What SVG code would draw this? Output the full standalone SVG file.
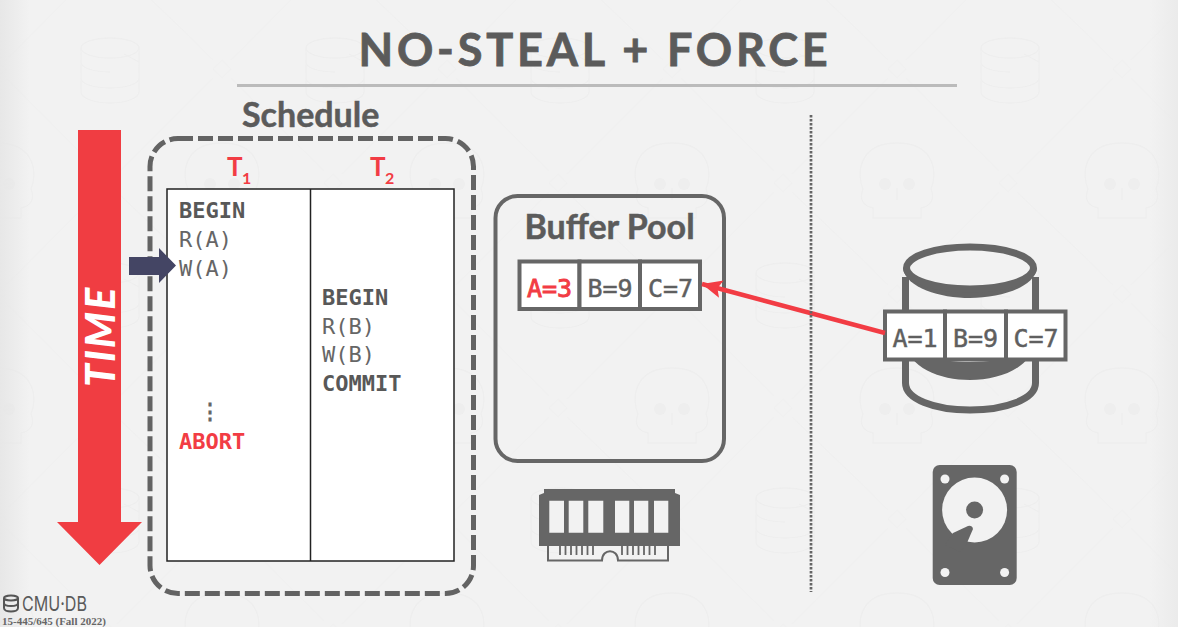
<svg xmlns="http://www.w3.org/2000/svg" width="1178" height="627" viewBox="0 0 1178 627">
<style>
.lato{font-family:Lato,"Open Sans",sans-serif;font-weight:700;fill:#5b5b5b;stroke:#5b5b5b;stroke-width:.5}
.mono{font-family:"DejaVu Sans Mono",monospace;font-size:22px;fill:#666}
.b{font-weight:700;fill:#585858}
.cell{fill:#fff;stroke:#666;stroke-width:4}
.val{font-family:"DejaVu Sans Mono",monospace;font-size:25px;fill:#5f5f5f;stroke:#5f5f5f;stroke-width:.5;text-anchor:middle}
.mono.red,.val.red{fill:#f23c44;stroke-color:#f23c44}
.val.red{stroke:#f23c44;stroke-width:.9}
.tx{font-family:Lato,sans-serif;font-weight:700;fill:#f23c44}
.wm{fill:none;stroke:#eeeeee;stroke-width:1.300}
.hole{fill:#f2f2f2}
.dk{fill:#666}
</style>
<defs>
<pattern id="tile" patternUnits="userSpaceOnUse" x="78" y="36" width="225" height="225">
<path d="M111 0L135 24M153 42L225 114M0 114L21 135M39 156L111 225M177 0L153 24M135 42L39 138M21 156L0 177M225 177L177 225M144 24L153 33L144 42L135 33ZM30 138L39 147L30 156L21 147Z" fill="none" stroke="#f0f0f0" stroke-width="1.200"/>
<ellipse class="wm" cx="32" cy="12" rx="29" ry="10"/>
<path class="wm" d="M3 12V56C3 62 16 67 32 67S61 62 61 56V12M3 26C3 32 16 36 32 36M3 42C3 48 16 52 32 52S61 48 61 42M46 18L61 26"/>
<path class="wm" d="M120 182V172C110 170 106 163 110 153C104 140 104 107 144 107S184 140 178 153C182 163 178 170 168 172V182Z"/>
<circle cx="132" cy="148" r="6" fill="#eeeeee"/><circle cx="156" cy="148" r="6" fill="#eeeeee"/>
<path class="wm" d="M144 152V164"/>
</pattern>
<linearGradient id="edgeL"><stop offset="0" stop-color="#e6e6e6" stop-opacity=".9"/><stop offset="1" stop-color="#e6e6e6" stop-opacity="0"/></linearGradient>
<linearGradient id="edgeR"><stop offset="0" stop-color="#eaeaea" stop-opacity="0"/><stop offset="1" stop-color="#eaeaea" stop-opacity=".9"/></linearGradient>
<marker id="redHead" markerUnits="userSpaceOnUse" markerWidth="24" markerHeight="20" refX="20" refY="9" orient="auto">
<path d="M0 0L20 9L0 18L4 9Z" fill="#f23c44"/>
</marker>
</defs>
<rect width="1178" height="627" fill="#f2f2f2"/>
<rect width="1178" height="627" fill="url(#tile)"/>
<rect width="30" height="627" fill="url(#edgeL)"/>
<rect x="1150" width="28" height="627" fill="url(#edgeR)"/>
<g id="title">
<text class="lato" x="595" y="66" font-size="45" text-anchor="middle" letter-spacing="3.800" style="stroke-width:.8">NO-STEAL + FORCE</text>
<rect x="237" y="84" width="720" height="3" fill="#bbb"/>
</g>
<g id="time-arrow">
<path d="M78 130H121V522H142L99.500 565L57 522H78Z" fill="#f03d42"/>
<text transform="translate(115 387) rotate(-90)" font-family="Lato,sans-serif" font-weight="900" font-style="italic" font-size="41" fill="#fff" letter-spacing="2">TIME</text>
</g>
<g id="schedule">
<text class="lato" x="242" y="127" font-size="34">Schedule</text>
<rect x="150" y="138.500" width="323.500" height="455" rx="28" fill="none" stroke="#636363" stroke-width="5" stroke-dasharray="15 5"/>
<text class="tx" x="227" y="176" font-size="26">T</text>
<text class="tx" x="242" y="184" font-size="16">1</text>
<text class="tx" x="370" y="176" font-size="26">T</text>
<text class="tx" x="385" y="184" font-size="16">2</text>
<rect x="167" y="189" width="287" height="372" fill="#fff" stroke="#222" stroke-width="1.500"/>
<path d="M310.500 189V561" stroke="#222" stroke-width="1.500"/>
<text class="mono b" x="179" y="218">BEGIN</text>
<text class="mono" x="179" y="247">R(A)</text>
<text class="mono" x="179" y="276">W(A)</text>
<text class="mono" x="209.500" y="419" text-anchor="middle" font-weight="700">⋮</text>
<text class="mono b red" x="179" y="449">ABORT</text>
<text class="mono b" x="322" y="305">BEGIN</text>
<text class="mono" x="322" y="334">R(B)</text>
<text class="mono" x="322" y="362">W(B)</text>
<text class="mono b" x="322" y="391">COMMIT</text>
</g>
<g id="cursor"><path d="M129 257H159V248L176 265.500L159 283V275H129Z" fill="#444564"/></g>
<g id="buffer-pool">
<rect x="495.500" y="196" width="228.500" height="265" rx="22" fill="none" stroke="#666" stroke-width="4"/>
<text class="lato" x="609.500" y="239" font-size="34" text-anchor="middle">Buffer Pool</text>
<rect class="cell" x="519.500" y="261.500" width="60" height="47.500"/>
<rect class="cell" x="579.500" y="261.500" width="60.500" height="47.500"/>
<rect class="cell" x="640" y="261.500" width="60" height="47.500"/>
<text class="val red" x="549.500" y="297">A=3</text>
<text class="val" x="610" y="297">B=9</text>
<text class="val" x="670.500" y="297">C=7</text>
</g>
<g id="ram">
<path class="dk" d="M544 489H675V493L680 495V546H539V495L544 493Z"/>
<path class="hole" d="M549.300 500.700H564V532.700H549.300ZM568.700 500.700H583.300V532.700H568.700ZM588.300 500.700H603.300V532.700H588.300ZM615 500.700H629.300V532.700H615ZM634 500.700H648.300V532.700H634ZM654 500.700H668.300V532.700H654Z"/>
<path fill="none" stroke="#666" stroke-width="2" d="M548 546V560.500H602C602 548 618 548 618 560.500H668V546"/>
<path fill="none" stroke="#666" stroke-width="1.800" d="M560 546V555M565.500 546V555M571 546V555M576.500 546V555M582 546V555M587.500 546V555M593 546V555M622 546V555M627.500 546V555M633 546V555M638.500 546V555M644 546V555M649.500 546V555M655 546V555"/>
</g>
<g id="disk">
<path fill="none" stroke="#666" stroke-width="7" d="M905.500 277V383C905.500 399 934 410 970 410S1035.500 399 1035.500 383V277"/>
<path class="dk" d="M903 268C906 288 940 298 970 298S1034 288 1037 268Z"/>
<path class="dk" d="M904 340C908 368 940 380 970 380S1032 368 1036 340C1030 355 1000 362 970 362S910 355 904 340Z"/>
<ellipse cx="970" cy="268" rx="63.500" ry="21" fill="#f2f2f2" stroke="#666" stroke-width="7"/>
<rect class="cell" x="885" y="311.500" width="60" height="48"/>
<rect class="cell" x="945" y="311.500" width="61" height="48"/>
<rect class="cell" x="1006" y="311.500" width="59.500" height="48"/>
<text class="val" x="915" y="347">A=1</text>
<text class="val" x="975.500" y="347">B=9</text>
<text class="val" x="1036" y="347">C=7</text>
</g>
<g id="hdd">
<rect class="dk" x="932.700" y="465" width="84" height="120" rx="7"/>
<circle class="hole" cx="945" cy="479" r="4.500"/><circle class="hole" cx="1004.600" cy="479" r="4.500"/>
<circle class="hole" cx="945" cy="572.500" r="4.500"/><circle class="hole" cx="1004.600" cy="572.500" r="4.500"/>
<circle class="hole" cx="974.600" cy="510" r="32.500"/>
<circle class="dk" cx="974.600" cy="510" r="8.500"/>
<path class="dk" d="M953 533L968 526Q972 525 973 529L966.500 544L960 552L945 545Z"/>
</g>
<g id="connectors">
<path d="M885 333L702 284" stroke="#f23c44" stroke-width="4.500" fill="none" marker-end="url(#redHead)"/>
<path d="M811 115V592" stroke="#666" stroke-width="2.700" stroke-dasharray="2.500 1.500" fill="none"/>
</g>
<g id="footer">
<g fill="none" stroke="#555" stroke-width="2">
<ellipse cx="11" cy="598" rx="7" ry="2.500"/>
<path d="M4 598V603C4 605 7 606 11 606S18 605 18 603V598M4 603V608C4 610 7 611.500 11 611.500S18 610 18 608V603"/>
</g>
<text x="22" y="610.500" font-family="Inter,'Liberation Sans',sans-serif" font-size="20.500" fill="#5a5a5a" textLength="65" lengthAdjust="spacingAndGlyphs">CMU·DB</text>
<text x="2" y="625" font-family="'Liberation Serif',serif" font-weight="700" font-size="11" fill="#666">15-445/645 (Fall 2022)</text>
</g>
</svg>
